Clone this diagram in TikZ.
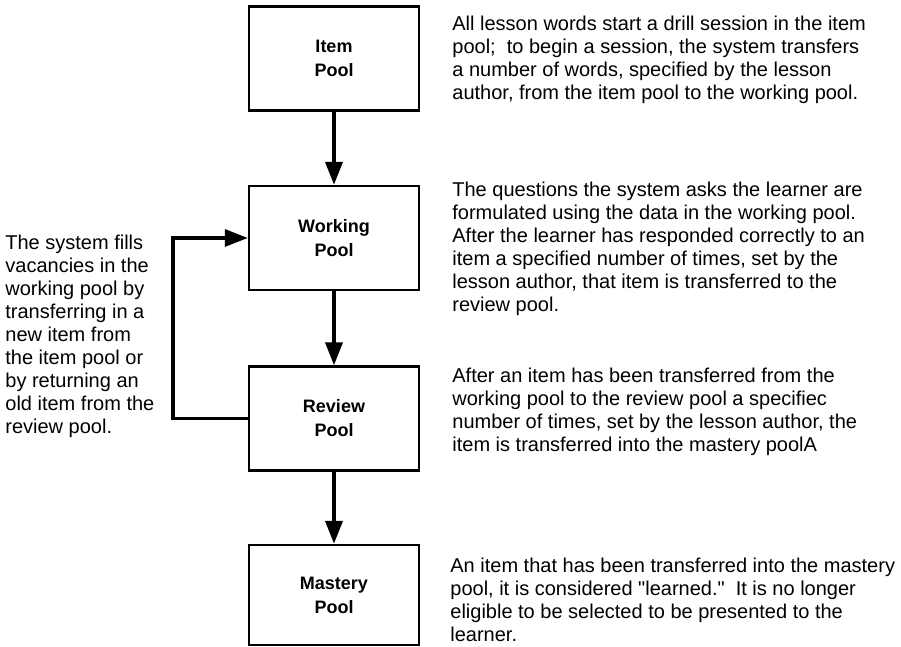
\documentclass[tikz,border=0pt]{standalone}
\usepackage{fontspec}
\setmainfont{Liberation Sans}
\usetikzlibrary{arrows.meta}

\begin{document}
\begin{tikzpicture}[x=0.5pt,y=0.5pt,>={Triangle[length=11.5pt,width=8.5pt]},
  pool/.style={draw,line width=1.2pt,minimum width=85pt,minimum height=52pt,align=center,font=\fontsize{9}{12}\selectfont\bfseries},
  note/.style={anchor=base west,align=left,inner sep=0pt,font=\fontsize{10}{11.5}\selectfont}]
\useasboundingbox (0,0) rectangle (901,647);

\node[pool] (1) at (334,588.5) {Item\\Pool};
\node[pool] (2) at (334,409) {Working\\Pool};
\node[pool] (3) at (334,228.5) {Review\\Pool};
\node[pool,minimum height=50pt] (4) at (334,52) {Mastery\\Pool};

% notes are placed by the baseline of their last line
\node[note] (5) at (452,547) {All lesson words start a drill session in the item\\pool;\ \ to begin a session, the system transfers\\a number of words, specified by the lesson\\author, from the item pool to the working pool.};
\node[note] (6) at (452,335) {The questions the system asks the learner are\\formulated using the data in the working pool.\\After the learner has responded correctly to an\\item a specified number of times, set by the\\lesson author, that item is transferred to the\\review pool.};
\node[note] (7) at (452,195) {After an item has been transferred from the\\working pool to the review pool a specifiec\\number of times, set by the lesson author, the\\item is transferred into the mastery poolA};
\node[note] (8) at (450,5) {An item that has been transferred into the mastery\\pool, it is considered \textquotedbl learned.\textquotedbl\ \ It is no longer\\eligible to be selected to be presented to the\\learner.};
\node[note] (9) at (5,213) {The system fills\\vacancies in the\\working pool by\\transferring in a\\new item from\\the item pool or\\by returning an\\old item from the\\review pool.};

\coordinate (back) at (173,228.5);

\draw[->,line width=1.8pt] (1) to (2);
\draw[->,line width=1.8pt] (2) to (3);
\draw[->,line width=1.8pt] (3) to (4);
\draw[->,line width=1.6pt] (3.west) -- (back) |- (2.west);
\end{tikzpicture}
\end{document}
